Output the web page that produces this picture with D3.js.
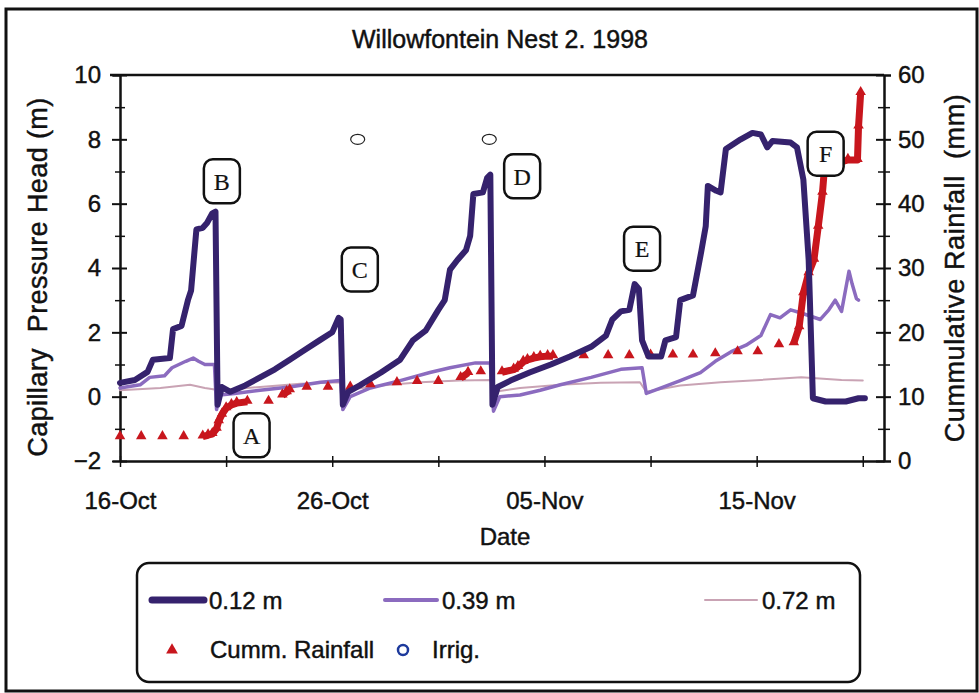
<!DOCTYPE html>
<html lang="en">
<head>
<meta charset="UTF-8">
<style>
  body { margin:0; background:#fff; font-family: Arial, "Liberation Sans", sans-serif; }
  #chart { display:block; }
  text { fill:#111; stroke:#111; stroke-width:0.45px; }
  .axis path, .axis line { stroke:#111; stroke-width:2; }
  .axis text { font-size:24px; font-family: Arial, "Liberation Sans", sans-serif; }
  .minor line { stroke-width:1.5; }
  .note rect { fill:#fff; stroke:#111; stroke-width:2.5; }
  .note text { font-family:"Liberation Serif", "Times New Roman", serif; font-size:24px; stroke-width:0.2px; }
  .legend text { font-size:24px; }
</style>
<script src="https://d3js.org/d3.v7.min.js"></script>
</head>
<body>
<svg id="chart" width="979" height="693"></svg>
<script>
// days since 16-Oct-1998
var start = Date.UTC(1998, 9, 16);
function day(d) { return new Date(start + d * 864e5); }

var headDays12 = [0,0.7,1.3,1.55,2.35,2.5,2.9,3.2,3.35,3.6,3.9,4.1,4.35,4.5,4.6,4.8,5.2,5.9,6.6,7.3,8.0,8.7,9.4,10.0,10.3,10.4,10.5,10.75,11.3,12.3,13.2,13.8,14.4,15.0,15.3,15.55,15.9,16.3,16.5,16.65,17.1,17.3,17.45,17.55,17.8,18.4,19.3,20.3,21.2,22.2,22.9,23.2,23.6,24.0,24.25,24.45,24.6,24.9,25.5,25.7,26.2,26.4,27.0,27.4,27.6,27.7,28.1,28.3,28.55,29.25,29.8,30.2,30.5,30.75,31.6,31.9,32.2,32.45,32.65,33.25,34.2,34.8,35.1];
var head12 = [0.43,0.52,0.77,1.15,1.2,2.1,2.2,3.0,3.3,5.2,5.25,5.4,5.7,5.75,-0.25,0.3,0.15,0.35,0.6,0.85,1.15,1.45,1.75,2.0,2.45,2.4,-0.25,0.15,0.35,0.75,1.15,1.75,2.05,2.7,3.0,3.95,4.25,4.55,5.0,6.3,6.35,6.8,6.9,-0.25,0.3,0.5,0.75,1.0,1.25,1.55,1.9,2.4,2.65,2.7,3.5,3.35,1.75,1.25,1.25,1.75,1.85,3.0,3.15,4.55,5.3,6.55,6.4,6.35,7.7,8.0,8.2,8.15,7.75,7.95,7.9,7.75,6.75,4.25,-0.05,-0.15,-0.15,-0.05,-0.05];

var headDays39 = [0,0.95,1.4,2.1,2.45,3.1,3.45,3.7,4.0,4.45,4.55,4.7,5.4,6.6,8.0,9.45,10.4,10.5,10.85,11.8,13.2,14.6,15.55,16.75,17.45,17.6,17.9,18.85,19.8,20.75,22.2,23.6,24.6,24.8,25.5,26.4,27.35,28.05,28.8,29.5,30.2,30.65,31.1,31.6,32.1,32.55,33.0,33.4,33.7,34.0,34.35,34.5,34.7,34.8];
var head39 = [0.27,0.37,0.6,0.65,0.9,1.1,1.2,1.1,1.0,1.0,-0.4,0.05,0.1,0.2,0.3,0.45,0.5,-0.4,0,0.27,0.5,0.75,0.9,1.05,1.05,-0.45,0,0.05,0.2,0.37,0.6,0.85,0.9,0.1,0.27,0.5,0.75,1.1,1.4,1.6,1.9,2.55,2.45,2.7,2.6,2.5,2.4,2.7,3.0,2.65,3.9,3.5,3.05,3.0];

var headDays72 = [0,1.9,3.3,4.0,4.7,6.6,8.5,10.4,10.6,12.3,14.15,16.0,17.45,17.65,18.85,20.75,22.65,24.5,24.8,26.4,28.3,30.2,32.1,34.0,35.0];
var head72 = [0.2,0.27,0.37,0.27,0.2,0.3,0.4,0.45,0.2,0.35,0.45,0.5,0.52,0.15,0.27,0.37,0.43,0.45,0.15,0.35,0.45,0.52,0.6,0.52,0.5];

var rainDays = [0,1,2,3,3.9,4.15,4.35,4.55,4.65,4.8,5.0,5.25,5.5,6.0,7.0,7.65,7.85,8.0,8.8,9.8,10.85,11.8,13.05,14.0,15.0,16.05,16.4,17.0,18.0,18.55,18.75,19.0,19.2,19.5,19.8,20.15,20.4,21.85,23.0,24.0,25.0,26.05,27.0,28.05,29.1,30.05,31.05,31.75,32.0,32.2,32.45,32.7,32.9,33.1,33.2,33.5,33.8,34.3,34.75,34.8,34.9];
var rainMm = [3.7,3.7,3.7,3.7,3.8,4.0,4.2,5.0,6.2,7.2,8.2,8.7,9.0,9.2,9.2,10.2,10.7,11.0,11.4,11.4,11.4,11.8,12.1,12.3,12.3,12.9,13.7,13.8,13.8,14.2,14.6,15.4,15.7,16.0,16.2,16.3,16.3,16.3,16.3,16.3,16.4,16.4,16.4,16.6,16.9,16.9,18.0,18.3,20.8,26.1,29.2,31.3,36.4,41.7,45.7,45.7,46.3,46.8,46.8,52,57.2];

var irrigDays = [11.2, 17.4];
var irrigHead = [8, 8];

var noteLabels = ["A","B","C","D","E","F"];
var noteDays = [6.2, 4.8, 11.3, 18.95, 24.6, 33.25];
var noteHead = [-1.2, 6.7, 3.95, 6.85, 4.6, 7.55];

var leftTicks = [-2,0,2,4,6,8,10];
var rightTicks = [0,10,20,30,40,50,60];
var dateTicks = [0,10,20,30];

var svg = d3.select("#chart");

var x = d3.scaleUtc().domain([day(0), day(36)]).range([120, 884]);
var y = d3.scaleLinear().domain([-2, 10]).range([461, 75]);
var y2 = d3.scaleLinear().domain([0, 60]).range([461, 75]);

// outer frame
svg.append("rect").attr("x", 6).attr("y", 9).attr("width", 971).attr("height", 682)
    .attr("fill", "none").attr("stroke", "#111").attr("stroke-width", 3);

// top border of plot
svg.append("line").attr("x1", 110).attr("x2", 884).attr("y1", 75).attr("y2", 75)
    .attr("stroke", "#111").attr("stroke-width", 2.5);

// x axis
var xMinor = svg.append("g").attr("class", "axis minor").attr("transform", "translate(0,461)")
    .call(d3.axisBottom(x).tickValues(d3.range(0, 36, 5).map(day)).tickFormat("").tickSizeOuter(0));
xMinor.selectAll("line").attr("y1", -5).attr("y2", 6);
var xAxis = svg.append("g").attr("class", "axis").attr("transform", "translate(0,461)")
    .call(d3.axisBottom(x).tickValues(dateTicks.map(day)).tickFormat(d3.utcFormat("%d-%b"))
        .tickSizeOuter(0).tickSize(0).tickPadding(31));
xAxis.select(".domain").attr("stroke-width", 2.5);

// left axis
var yMinor = svg.append("g").attr("class", "axis minor").attr("transform", "translate(120,0)")
    .call(d3.axisLeft(y).tickValues(d3.range(-1, 10, 2)).tickFormat("").tickSizeOuter(0));
yMinor.selectAll("line").attr("x1", -5).attr("x2", 5);
var yAxis = svg.append("g").attr("class", "axis").attr("transform", "translate(120,0)")
    .call(d3.axisLeft(y).tickValues(leftTicks).tickSizeOuter(0).tickSize(7).tickPadding(12));
yAxis.selectAll("line").attr("x1", -8).attr("x2", 7);
yAxis.select(".domain").attr("stroke-width", 2.5);

// right axis
var rMinor = svg.append("g").attr("class", "axis minor").attr("transform", "translate(884,0)")
    .call(d3.axisRight(y2).tickValues(d3.range(5, 60, 10)).tickFormat("").tickSizeOuter(0));
rMinor.selectAll("line").attr("x1", -6).attr("x2", 6);
var rAxis = svg.append("g").attr("class", "axis").attr("transform", "translate(884,0)")
    .call(d3.axisRight(y2).tickValues(rightTicks).tickSizeOuter(0).tickSize(7).tickPadding(7));
rAxis.selectAll("line").attr("x1", -8).attr("x2", 7);
rAxis.select(".domain").attr("stroke-width", 2.5);

// series
var line = d3.line().x(function(d) { return x(day(d[0])); }).y(function(d) { return y(d[1]); });
function drawHead(days, vals, color, w) {
    svg.append("path").datum(d3.zip(days, vals))
        .attr("fill", "none").attr("stroke", color).attr("stroke-width", w)
        .attr("stroke-linejoin", "round").attr("stroke-linecap", "round")
        .attr("d", line);
}
drawHead(headDays72, head72, "#c9a3b4", 2);
drawHead(headDays39, head39, "#8b6bbf", 3.5);

// rainfall: dense logging shows as a solid band
var rain = d3.zip(rainDays, rainMm);
var rainLine = d3.line().x(function(d) { return x(day(d[0])); }).y(function(d) { return y2(d[1]); });
var seg = [rain[0]];
function flush() {
    if (seg.length > 1) svg.append("path").datum(seg).attr("fill", "none").attr("stroke", "#c8161d")
        .attr("stroke-width", 7).attr("stroke-linejoin", "round").attr("d", rainLine);
}
for (var i = 1; i < rain.length; i++) {
    if (rain[i][0] - rain[i-1][0] <= 0.6) { seg.push(rain[i]); }
    else { flush(); seg = [rain[i]]; }
}
flush();

svg.selectAll(".rain").data(rain).enter().append("path")
    .attr("class", "rain")
    .attr("d", d3.symbol(d3.symbolTriangle).size(48))
    .attr("fill", "#c8161d")
    .attr("transform", function(d) { return "translate(" + x(day(d[0])) + "," + (y2(d[1]) - 1) + ")"; });

drawHead(headDays12, head12, "#35226d", 6);

// irrigation
svg.selectAll(".irrig").data(d3.zip(irrigDays, irrigHead)).enter().append("ellipse")
    .attr("class", "irrig")
    .attr("cx", function(d) { return x(day(d[0])); })
    .attr("cy", function(d) { return y(d[1]); })
    .attr("rx", 7).attr("ry", 5)
    .attr("fill", "none").attr("stroke", "#222").attr("stroke-width", 1.2);

// lettered notes
var notes = svg.selectAll(".note").data(d3.zip(noteLabels, noteDays, noteHead)).enter().append("g")
    .attr("class", "note")
    .attr("transform", function(d) { return "translate(" + x(day(d[1])) + "," + y(d[2]) + ")"; });
notes.append("rect").attr("x", -18).attr("y", -22).attr("width", 36).attr("height", 44).attr("rx", 9);
notes.append("text").attr("text-anchor", "middle").attr("dy", "0.35em").text(function(d) { return d[0]; });

// titles
svg.append("text").attr("x", 500).attr("y", 48).attr("text-anchor", "middle")
    .style("font-size", "25px").text("Willowfontein Nest 2. 1998");
svg.append("text").attr("x", 505).attr("y", 545).attr("text-anchor", "middle")
    .style("font-size", "24px").text("Date");
svg.append("text").attr("transform", "translate(47,277) rotate(-90)").attr("text-anchor", "middle")
    .style("font-size", "27px").style("letter-spacing", "0.4px").style("white-space", "pre")
    .text("Capillary  Pressure Head (m)");
svg.append("text").attr("transform", "translate(964,268) rotate(-90)").attr("text-anchor", "middle")
    .style("font-size", "27px").style("letter-spacing", "0.6px").style("white-space", "pre")
    .text("Cummulative Rainfall  (mm)");

// legend
var lg = svg.append("g").attr("class", "legend");
lg.append("rect").attr("x", 137).attr("y", 563).attr("width", 723).attr("height", 119).attr("rx", 12)
    .attr("fill", "#fff").attr("stroke", "#111").attr("stroke-width", 2.5);
var legLines = [["0.12 m", "#35226d", 7, 152], ["0.39 m", "#8b6bbf", 4, 385], ["0.72 m", "#c9a3b4", 2, 705]];
legLines.forEach(function(l) {
    lg.append("line").attr("x1", l[3]).attr("x2", l[3] + 52).attr("y1", 600).attr("y2", 600)
        .attr("stroke", l[1]).attr("stroke-width", l[2]).attr("stroke-linecap", "round");
    lg.append("text").attr("x", l[3] + 57).attr("y", 609).text(l[0]);
});
lg.append("path").attr("d", d3.symbol(d3.symbolTriangle).size(60)).attr("fill", "#c8161d")
    .attr("transform", "translate(172,650)");
lg.append("text").attr("x", 210).attr("y", 658).text("Cumm. Rainfall");
lg.append("circle").attr("cx", 403).attr("cy", 650).attr("r", 5).attr("fill", "none")
    .attr("stroke", "#1d3a9c").attr("stroke-width", 2.5);
lg.append("text").attr("x", 432).attr("y", 658).text("Irrig.");
</script>
</body>
</html>
